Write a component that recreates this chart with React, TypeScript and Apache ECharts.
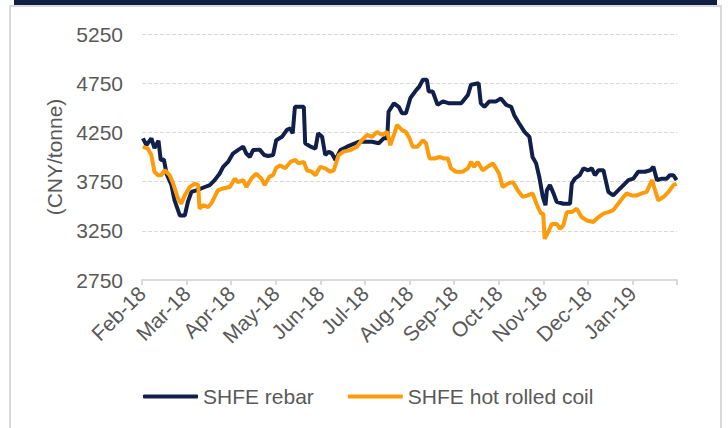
import React, { useEffect, useRef } from "react";
import * as echarts from "echarts";

// Month tick labels (one per tick on the x axis, measured in months from Feb-18)
const monthLabels = ["Feb-18", "Mar-18", "Apr-18", "May-18", "Jun-18", "Jul-18", "Aug-18", "Sep-18", "Oct-18", "Nov-18", "Dec-18", "Jan-19"];

// SHFE rebar: time position (months since start of Feb-18) and price (CNY/tonne)
const rebarT = [0.02, 0.10, 0.21, 0.28, 0.37, 0.42, 0.49, 0.55, 0.66, 0.73, 0.85, 0.96, 1.03, 1.11, 1.22, 1.41, 1.52, 1.63, 1.74, 1.82, 1.93, 2.04, 2.15, 2.27, 2.34, 2.42, 2.49, 2.64, 2.74, 2.83, 2.94, 3.01, 3.14, 3.25, 3.33, 3.38, 3.43, 3.63, 3.66, 3.78, 3.89, 3.95, 4.04, 4.11, 4.19, 4.26, 4.34, 4.45, 4.60, 4.86, 5.16, 5.31, 5.42, 5.50, 5.53, 5.65, 5.76, 5.83, 5.92, 6.02, 6.15, 6.22, 6.30, 6.39, 6.43, 6.52, 6.63, 6.75, 6.89, 7.16, 7.31, 7.38, 7.55, 7.60, 7.68, 7.79, 7.94, 8.05, 8.17, 8.28, 8.35, 8.46, 8.58, 8.69, 8.76, 8.84, 8.91, 8.99, 9.05, 9.08, 9.15, 9.23, 9.30, 9.45, 9.60, 9.64, 9.71, 9.82, 9.90, 10.01, 10.09, 10.16, 10.24, 10.35, 10.46, 10.57, 10.68, 10.80, 10.91, 11.02, 11.13, 11.28, 11.40, 11.47, 11.55, 11.66, 11.77, 11.84, 11.92, 11.99];
const rebarV = [4190, 4120, 4190, 4090, 4165, 3970, 3975, 3830, 3715, 3560, 3405, 3405, 3545, 3645, 3660, 3695, 3715, 3765, 3830, 3900, 3950, 4035, 4070, 4105, 4035, 4000, 4070, 4075, 4020, 4010, 4020, 4170, 4205, 4275, 4290, 4240, 4510, 4510, 4140, 4105, 4085, 4240, 4205, 4020, 4055, 4035, 3970, 4070, 4105, 4155, 4155, 4140, 4190, 4190, 4460, 4545, 4510, 4445, 4445, 4600, 4680, 4715, 4785, 4785, 4665, 4665, 4530, 4565, 4545, 4545, 4630, 4735, 4750, 4545, 4510, 4565, 4565, 4595, 4530, 4510, 4425, 4340, 4255, 4205, 4000, 3935, 3800, 3595, 3510, 3660, 3715, 3630, 3545, 3525, 3525, 3730, 3780, 3815, 3885, 3865, 3885, 3815, 3865, 3865, 3645, 3610, 3660, 3715, 3765, 3780, 3850, 3850, 3865, 3900, 3765, 3780, 3780, 3815, 3815, 3765];

// SHFE hot rolled coil: time position (months since start of Feb-18) and price (CNY/tonne)
const coilT = [0.02, 0.13, 0.21, 0.28, 0.36, 0.43, 0.51, 0.62, 0.70, 0.81, 0.88, 0.96, 1.07, 1.18, 1.26, 1.29, 1.37, 1.48, 1.55, 1.63, 1.70, 1.82, 1.97, 2.08, 2.15, 2.27, 2.34, 2.45, 2.56, 2.68, 2.75, 2.86, 2.94, 3.01, 3.10, 3.21, 3.33, 3.44, 3.51, 3.63, 3.70, 3.81, 3.89, 4.00, 4.11, 4.22, 4.30, 4.41, 4.52, 4.67, 4.82, 4.93, 5.05, 5.16, 5.27, 5.38, 5.50, 5.57, 5.65, 5.72, 5.83, 5.92, 6.00, 6.07, 6.18, 6.30, 6.37, 6.45, 6.56, 6.67, 6.78, 6.86, 6.93, 7.04, 7.19, 7.31, 7.38, 7.45, 7.53, 7.64, 7.75, 7.87, 7.94, 8.01, 8.09, 8.20, 8.32, 8.43, 8.54, 8.65, 8.76, 8.88, 8.95, 9.00, 9.03, 9.11, 9.19, 9.30, 9.38, 9.45, 9.53, 9.64, 9.75, 9.86, 9.98, 10.12, 10.24, 10.35, 10.46, 10.57, 10.68, 10.80, 10.87, 10.98, 11.10, 11.21, 11.32, 11.44, 11.51, 11.58, 11.70, 11.81, 11.92, 11.99];
const coilV = [4105, 4085, 4020, 3850, 3815, 3815, 3865, 3815, 3730, 3575, 3525, 3610, 3695, 3730, 3715, 3475, 3510, 3490, 3525, 3595, 3660, 3680, 3695, 3780, 3745, 3765, 3695, 3780, 3830, 3780, 3715, 3800, 3815, 3890, 3915, 3885, 3950, 3970, 3935, 3950, 3865, 3850, 3815, 3900, 3885, 3850, 3865, 4020, 4055, 4070, 4105, 4170, 4225, 4205, 4255, 4225, 4255, 4120, 4225, 4325, 4275, 4255, 4190, 4105, 4105, 4170, 4140, 3985, 3985, 4000, 3985, 3985, 3885, 3850, 3850, 3885, 3950, 3900, 3950, 3865, 3900, 3935, 3885, 3830, 3695, 3730, 3745, 3660, 3595, 3610, 3630, 3490, 3425, 3425, 3170, 3235, 3320, 3320, 3270, 3305, 3440, 3440, 3475, 3390, 3355, 3340, 3390, 3425, 3440, 3460, 3525, 3595, 3630, 3610, 3610, 3630, 3645, 3765, 3660, 3560, 3595, 3645, 3715, 3730];

const seriesNames = ["SHFE rebar", "SHFE hot rolled coil"];
const yAxisTitle = "(CNY/tonne)";

const pair = (t: number[], v: number[]) => t.map((x, i) => [x, v[i]]);

export default function App() {
  const ref = useRef<HTMLDivElement>(null);
  useEffect(() => {
    document.body.style.margin = "0";
    const chart = echarts.init(ref.current!, undefined, { renderer: "svg" });
    const font = "'Liberation Sans', Arial, sans-serif";
    const textColor = "#595959";
    chart.setOption({
      animation: false,
      backgroundColor: "#ffffff",
      textStyle: { fontFamily: font },
      graphic: [
        { type: "rect", shape: { x: 14, y: 0, width: 703, height: 5 }, style: { fill: "#131e45" } },
        {
          type: "polyline",
          shape: { points: [[10, 428], [10, 6], [721, 6], [721, 428]] },
          style: { stroke: "#d9d9d9", lineWidth: 2, fill: "none" },
        },
      ],
      grid: { left: 142, right: 51, top: 34, bottom: 148 },
      legend: {
        data: seriesNames,
        left: 138,
        top: 381,
        icon: "roundRect",
        itemWidth: 55,
        itemHeight: 4,
        itemGap: 34,
        textStyle: { fontSize: 21, color: textColor, fontFamily: font },
      },
      xAxis: {
        type: "value",
        min: 0,
        max: 12,
        interval: 1,
        axisLine: { show: true, lineStyle: { color: "#d9d9d9", width: 2 } },
        axisTick: { show: true, length: 5, lineStyle: { color: "#d9d9d9", width: 2 } },
        splitLine: { show: false },
        axisLabel: {
          rotate: 45,
          margin: 10,
          fontSize: 21,
          color: textColor,
          fontFamily: font,
          formatter: (v: number) => monthLabels[Math.round(v)] ?? "",
        },
      },
      yAxis: {
        type: "value",
        min: 2750,
        max: 5250,
        interval: 500,
        name: yAxisTitle,
        nameLocation: "middle",
        nameRotate: 90,
        nameGap: 72,
        nameTextStyle: { fontSize: 21, color: textColor, fontFamily: font },
        axisLine: { show: false },
        axisTick: { show: false },
        axisLabel: { fontSize: 21, color: textColor, margin: 19, fontFamily: font, formatter: (v: number) => String(v) },
        splitLine: { show: true, lineStyle: { color: "#d9d9d9", type: "dashed", width: 1 } },
      },
      series: [
        {
          name: seriesNames[0],
          type: "line",
          data: pair(rebarT, rebarV),
          showSymbol: false,
          symbol: "none",
          lineStyle: { width: 4, color: "#10204a" },
          itemStyle: { color: "#10204a" },
        },
        {
          name: seriesNames[1],
          type: "line",
          data: pair(coilT, coilV),
          showSymbol: false,
          symbol: "none",
          lineStyle: { width: 4, color: "#fd9b0b" },
          itemStyle: { color: "#fd9b0b" },
        },
      ],
    });
    return () => chart.dispose();
  }, []);
  return <div ref={ref} style={{ position: "fixed", left: 0, top: 0, width: 728, height: 428 }} />;
}
